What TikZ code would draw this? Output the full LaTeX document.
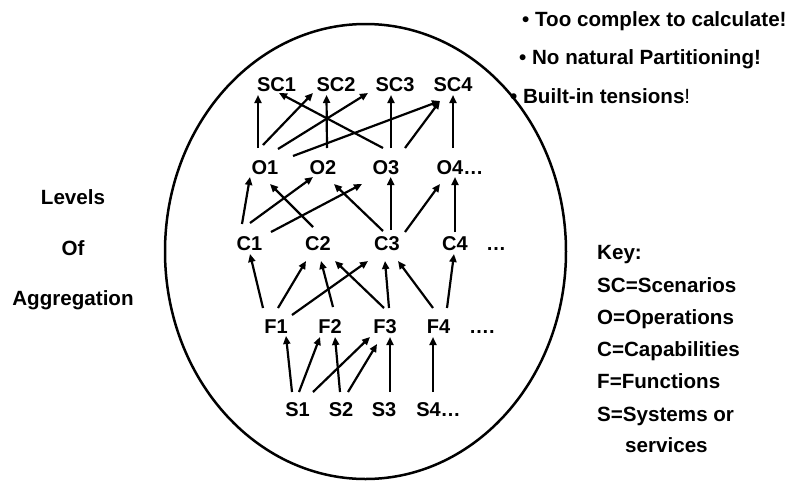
\documentclass[tikz,border=0pt]{standalone}
\usepackage{fontspec}
\setmainfont{Liberation Sans}
\usetikzlibrary{arrows.meta}
\begin{document}
\begin{tikzpicture}[x=1pt,y=-1pt,
  lbl/.style={font=\fontsize{20}{24}\selectfont\bfseries, inner sep=0pt, text height=14pt, text depth=0pt},
  txt/.style={font=\fontsize{20.6}{24}\selectfont\bfseries, inner sep=0pt},
  arr/.style={line width=2.2pt, -{Triangle[length=8pt,width=7pt]}},
]
\useasboundingbox (0,0) rectangle (793,480);
\draw[line width=2.5pt] (365.5,251.5) ellipse [x radius=200.5pt, y radius=227.5pt];

% nodes
\node[lbl] (SC1) at (276.5,84.5) {SC1};
\node[lbl] (SC2) at (336,84.5) {SC2};
\node[lbl] (SC3) at (395,84.5) {SC3};
\node[lbl] (SC4) at (453,84.5) {SC4};
\node[lbl] (O1) at (265,167) {O1};
\node[lbl] (O2) at (323,167) {O2};
\node[lbl] (O3) at (386,167) {O3};
\node[lbl] (O4) at (460,167) {O4…};
\node[lbl] (C1) at (249.5,243.5) {C1};
\node[lbl] (C2) at (318,243.5) {C2};
\node[lbl] (C3) at (387,243.5) {C3};
\node[lbl] (C4) at (455,243.5) {C4};
\node[lbl] (Cdots) at (496,243.5) {…};
\node[lbl] (F1) at (276,326) {F1};
\node[lbl] (F2) at (330,326) {F2};
\node[lbl] (F3) at (385,326) {F3};
\node[lbl] (F4) at (438.5,326) {F4};
\node[lbl] (Fdots) at (482,326) {….};
\node[lbl] (S1) at (297.5,409) {S1};
\node[lbl] (S2) at (341,409) {S2};
\node[lbl] (S3) at (384,409) {S3};
\node[lbl] (S4) at (438.5,409) {S4…};

% O -> SC
\draw[arr] ([shift={(-7,-19)}]O1.center) -- ([shift={(-18.5,10.5)}]SC1.center);
\draw[arr] ([shift={(-2,-22)}]O1.center) -- ([shift={(-23,8.5)}]SC2.center);
\draw[arr] ([shift={(4,-19)}]O2.center) -- ([shift={(-9.5,10.5)}]SC2.center);
\draw[arr] ([shift={(13,-18)}]O1.center) -- ([shift={(-27,8.5)}]SC3.center);
\draw[arr] ([shift={(28,-11)}]O1.center) -- ([shift={(-13,16.5)}]SC4.center);
\draw[arr] ([shift={(-3,-19)}]O3.center) -- ([shift={(2.5,8.5)}]SC1.center);
\draw[arr] ([shift={(5,-19)}]O3.center) -- ([shift={(-4,10.5)}]SC3.center);
\draw[arr] ([shift={(19,-19)}]O3.center) -- ([shift={(-13,16.5)}]SC4.center);
\draw[arr] ([shift={(-7,-19)}]O4.center) -- ([shift={(0,10.5)}]SC4.center);

% C -> O
\draw[arr] ([shift={(-7.5,-19.5)}]C1.center) -- ([shift={(-15,10)}]O1.center);
\draw[arr] ([shift={(0.5,-20.5)}]C1.center) -- ([shift={(-10,10)}]O2.center);
\draw[arr] ([shift={(21.5,-11.5)}]C1.center) -- ([shift={(-24,17)}]O3.center);
\draw[arr] ([shift={(-5,-16.5)}]C2.center) -- ([shift={(5,17)}]O1.center);
\draw[arr] ([shift={(-4,-12.5)}]C3.center) -- ([shift={(11,17)}]O2.center);
\draw[arr] ([shift={(3.7,-13.5)}]C3.center) -- ([shift={(4.7,10)}]O3.center);
\draw[arr] ([shift={(18,-11.5)}]C3.center) -- ([shift={(-20,17)}]O4.center);
\draw[arr] ([shift={(0,-11.5)}]C4.center) -- ([shift={(-5,10)}]O4.center);

% F -> C
\draw[arr] ([shift={(-13,-18)}]F1.center) -- ([shift={(0.5,10.5)}]C1.center);
\draw[arr] ([shift={(2,-18)}]F1.center) -- ([shift={(-12,17.5)}]C2.center);
\draw[arr] ([shift={(3,-19)}]F2.center) -- ([shift={(3,17.5)}]C2.center);
\draw[arr] ([shift={(-1,-18)}]F3.center) -- ([shift={(17,17.5)}]C2.center);
\draw[arr] ([shift={(16,-11)}]F1.center) -- ([shift={(-19,17.5)}]C3.center);
\draw[arr] ([shift={(4,-18)}]F3.center) -- ([shift={(-2,17.5)}]C3.center);
\draw[arr] ([shift={(-5.5,-18)}]F4.center) -- ([shift={(11,17.5)}]C3.center);
\draw[arr] ([shift={(8.5,-18)}]F4.center) -- ([shift={(-1,10.5)}]C4.center);

% S -> F
\draw[arr] ([shift={(-5.5,-17)}]S1.center) -- ([shift={(10,10)}]F1.center);
\draw[arr] ([shift={(1.5,-17)}]S1.center) -- ([shift={(-10,11)}]F2.center);
\draw[arr] ([shift={(15.5,-17)}]S1.center) -- ([shift={(-15,11)}]F3.center);
\draw[arr] ([shift={(-1,-17)}]S2.center) -- ([shift={(5,11)}]F2.center);
\draw[arr] ([shift={(7,-17)}]S2.center) -- ([shift={(-8,18)}]F3.center);
\draw[arr] ([shift={(6,-17)}]S3.center) -- ([shift={(5,11)}]F3.center);
\draw[arr] ([shift={(-5.5,-17)}]S4.center) -- ([shift={(-5.5,11)}]F4.center);

% bullets
\node[txt, anchor=base west] (b1) at (522,26.7) {• Too complex to calculate!};
\node[txt, anchor=base west] (b2) at (519,64) {• No natural Partitioning!};
\node[txt, anchor=base west] (b3) at (510,103) {• Built-in tensions{\mdseries !}};

% left
\node[txt, anchor=base] (lv) at (73,204) {Levels};
\node[txt, anchor=base] (of) at (73,255) {Of};
\node[txt, anchor=base] (ag) at (73,305) {Aggregation};

% key
\node[txt, anchor=base west] (k0) at (597,259.3) {Key:};
\node[txt, anchor=base west] (k1) at (597,292) {SC=Scenarios};
\node[txt, anchor=base west] (k2) at (597,324) {O=Operations};
\node[txt, anchor=base west] (k3) at (597,356) {C=Capabilities};
\node[txt, anchor=base west] (k4) at (597,388) {F=Functions};
\node[txt, anchor=base west] (k5) at (597,421) {S=Systems or};
\node[txt, anchor=base west] (k6) at (625,452) {services};
\end{tikzpicture}
\end{document}
